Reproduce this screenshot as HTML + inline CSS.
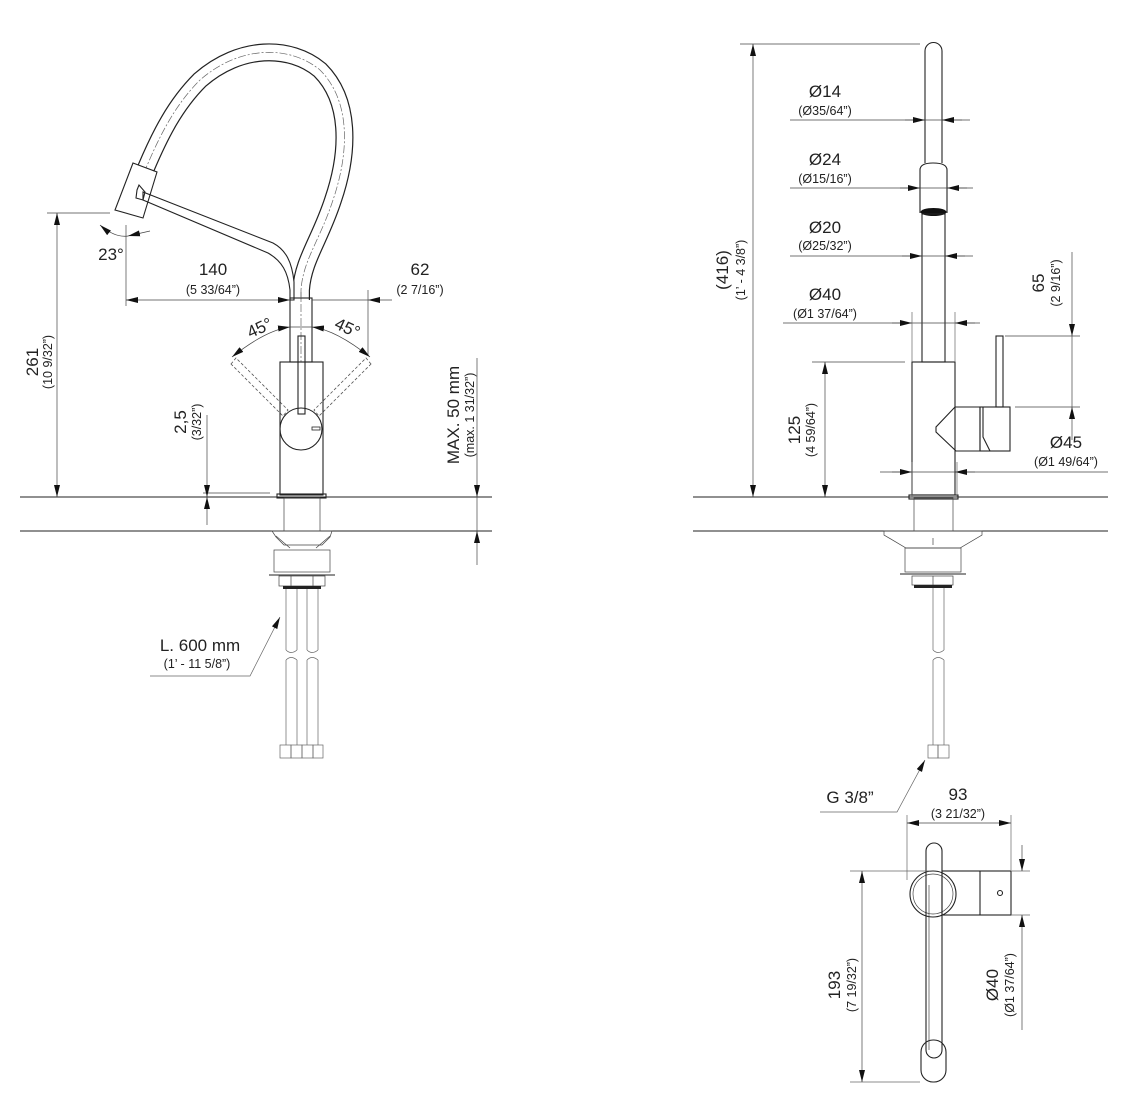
<!DOCTYPE html>
<html><head><meta charset="utf-8"><style>
html,body{margin:0;padding:0;background:#fff;}
svg{display:block;}
text{font-family:"Liberation Sans",sans-serif;fill:#222;}
.m{font-size:17px;}
.s{font-size:12.5px;}
.k{stroke:#222;stroke-width:1.1;fill:none;}
.t{stroke:#444;stroke-width:0.7;fill:none;}
.g{stroke:#666;stroke-width:0.7;fill:none;}
.d{stroke:#555;stroke-width:0.8;fill:none;stroke-dasharray:3 2;}
</style></head><body>
<svg width="1139" height="1116" viewBox="0 0 1139 1116" xmlns="http://www.w3.org/2000/svg">
<defs>
<marker id="a" viewBox="0 0 12 6" refX="12" refY="3" markerWidth="12" markerHeight="6" markerUnits="userSpaceOnUse" orient="auto-start-reverse"><path d="M0,0 L12,3 L0,6z" fill="#111"/></marker>
</defs>

<!-- ===== LEFT VIEW ===== -->
<line x1="20" y1="497" x2="492" y2="497" class="k"/>
<line x1="20" y1="531" x2="492" y2="531" class="k"/>
<!-- hose loop -->
<path d="M301,300 L301,290 C303,260 320,240 333,200 C350,150 350,100 320,70 C290,45 240,45 200,80 C175,105 160,135 146,168" stroke="#222" stroke-width="18" fill="none"/>
<path d="M301,302 L301,290 C303,260 320,240 333,200 C350,150 350,100 320,70 C290,45 240,45 200,80 C175,105 160,135 146,168" stroke="#fff" stroke-width="15.6" fill="none"/>
<path d="M301,300 L301,290 C303,260 320,240 333,200 C350,150 350,100 320,70 C290,45 240,45 200,80 C175,105 160,135 146,168" stroke="#666" stroke-width="0.7" stroke-dasharray="8 2 2 2" fill="none"/>
<!-- arm -->
<path d="M143,192 L273,243 C286,250 292,262 294,282 L294,300 L290,300 L290,290 C288,272 282,261 268,253 L143,200 Z" fill="#fff" stroke="#222" stroke-width="1.1"/>
<!-- pipe -->
<rect x="290" y="298" width="22" height="64" fill="#fff" class="k"/>
<line x1="301" y1="290" x2="301" y2="362" class="g" stroke-dasharray="8 2 2 2"/>
<!-- head -->
<polygon points="133,163 157,172 143,218 115,210" fill="#fff" class="k"/>
<path d="M137,190 L139,185 L145,192 L143,200 L136,198z" class="k" fill="#fff"/>
<!-- dashed levers -->
<polygon points="231,364 236,358 288,410 283,416" class="d"/>
<polygon points="371,364 366,358 314,410 319,416" class="d"/>
<!-- body -->
<rect x="280" y="362" width="43" height="133" fill="#fff" class="k"/>
<rect x="277" y="494" width="49" height="4" fill="#fff" class="k"/>
<rect x="298" y="336" width="7" height="78" fill="#fff" class="k"/>
<circle cx="301" cy="429" r="21" fill="#fff" class="k"/>
<rect x="312" y="427" width="8" height="3" fill="#fff" stroke="#222" stroke-width="0.8"/>
<!-- below counter -->
<rect x="284" y="498" width="36" height="33" fill="none" class="t"/>
<path d="M272,531 L332,531 L330,537 L322,545 L284,545 L276,537z" class="t"/>
<line x1="276" y1="536" x2="290" y2="548" class="t"/><line x1="330" y1="536" x2="316" y2="548" class="t"/>
<rect x="274" y="550" width="56" height="22" class="t"/>
<line x1="269" y1="575" x2="335" y2="575" class="k"/>
<rect x="279" y="576" width="46" height="10" class="t"/>
<line x1="291" y1="576" x2="291" y2="586" class="t"/><line x1="313" y1="576" x2="313" y2="586" class="t"/>
<rect x="283" y="586" width="38" height="3" fill="#222"/>
<g class="g">
<path d="M286,589 V650 M297,589 V650 M307,589 V650 M318,589 V650"/>
<path d="M286,660 V725 M297,660 V725 M307,660 V725 M318,660 V725"/>
<path d="M286,650 Q291,655 297,650 M307,650 Q312,655 318,650 M286,660 Q291,655 297,660 M307,660 Q312,655 318,660"/>
<rect x="280" y="745" width="11" height="13"/><rect x="291" y="745" width="11" height="13"/>
<rect x="302" y="745" width="11" height="13"/><rect x="313" y="745" width="10" height="13"/>
<path d="M286,725 V745 M297,725 V745 M307,725 V745 M318,725 V745"/>
</g>
<!-- dims left -->
<line x1="47" y1="213" x2="110" y2="213" class="t"/>
<line x1="57" y1="213" x2="57" y2="497" class="t" marker-start="url(#a)" marker-end="url(#a)"/>
<text class="m" transform="translate(38,362) rotate(-90)" text-anchor="middle">261</text>
<text class="s" transform="translate(52,362) rotate(-90)" text-anchor="middle">(10 9/32”)</text>
<line x1="126" y1="225" x2="126" y2="306" class="t"/>
<path d="M100,225 Q115,238 128,236" class="t" marker-start="url(#a)"/>
<line x1="128" y1="236" x2="150" y2="231" class="t" marker-start="url(#a)"/>
<text class="m" x="111" y="260" text-anchor="middle">23°</text>
<line x1="126" y1="300" x2="290" y2="300" class="t" marker-start="url(#a)" marker-end="url(#a)"/>
<line x1="312" y1="300" x2="368" y2="300" class="t"/>
<line x1="368" y1="300" x2="392" y2="300" class="t" marker-start="url(#a)"/>
<line x1="368" y1="290" x2="368" y2="356" class="t"/>
<text class="m" x="213" y="275" text-anchor="middle">140</text>
<text class="s" x="213" y="294" text-anchor="middle">(5 33/64”)</text>
<text class="m" x="420" y="275" text-anchor="middle">62</text>
<text class="s" x="420" y="294" text-anchor="middle">(2 7/16”)</text>
<path d="M232,357 Q266,330 290,327" class="t" marker-start="url(#a)" marker-end="url(#a)"/>
<path d="M370,357 Q336,330 312,327" class="t" marker-start="url(#a)" marker-end="url(#a)"/>
<line x1="290" y1="327" x2="312" y2="327" class="t"/>
<text class="m" transform="translate(262,333) rotate(-25)" text-anchor="middle">45°</text>
<text class="m" transform="translate(345,333) rotate(25)" text-anchor="middle">45°</text>
<line x1="203" y1="493" x2="270" y2="493" class="t"/>
<line x1="207" y1="415" x2="207" y2="497" class="t" marker-end="url(#a)"/>
<line x1="207" y1="525" x2="207" y2="497" class="t" marker-end="url(#a)"/>
<text class="m" transform="translate(186,422) rotate(-90)" text-anchor="middle">2,5</text>
<text class="s" transform="translate(201,422) rotate(-90)" text-anchor="middle">(3/32”)</text>
<line x1="477" y1="358" x2="477" y2="497" class="t" marker-end="url(#a)"/>
<line x1="477" y1="565" x2="477" y2="531" class="t" marker-end="url(#a)"/>
<line x1="477" y1="497" x2="477" y2="531" class="t"/>
<text class="m" transform="translate(459,415) rotate(-90)" text-anchor="middle">MAX. 50 mm</text>
<text class="s" transform="translate(474,415) rotate(-90)" text-anchor="middle">(max. 1 31/32”)</text>
<text class="m" x="200" y="651" text-anchor="middle">L. 600 mm</text>
<text class="s" x="197" y="668" text-anchor="middle">(1’ - 11 5/8”)</text>
<path d="M150,676 L250,676 L280,617" class="g" marker-end="url(#a)"/>

<!-- ===== RIGHT VIEW ===== -->
<line x1="693" y1="497" x2="1108" y2="497" class="k"/>
<line x1="693" y1="531" x2="1108" y2="531" class="k"/>
<path d="M925,163 V51 A8.5,8.5 0 0 1 942,51 V163" fill="#fff" class="k"/>
<path d="M920,213 V170 Q920,163 933,163 Q947,163 947,170 V213" fill="#fff" class="k"/>
<ellipse cx="933.5" cy="212" rx="13" ry="4" fill="#111"/>
<rect x="922" y="214" width="23" height="148" fill="#fff" class="k"/>
<rect x="912" y="362" width="43" height="133" fill="#fff" class="k"/>
<rect x="909" y="495" width="49" height="4" fill="#fff" class="k"/>
<rect x="996" y="336" width="7" height="71" fill="#fff" class="k"/>
<polygon points="955,407 980,407 980,451 956,451 936,432 936,427" fill="#fff" class="k"/>
<rect x="980" y="407" width="30" height="44" fill="#fff" class="k"/>
<path d="M983,407 V437 L990,451" class="k"/>
<rect x="914" y="498" width="39" height="33" class="t"/>
<path d="M884,531 L982,531 L982,535 L960,548 L906,548 L884,535z" class="t"/>
<line x1="933" y1="538" x2="933" y2="545" class="t"/>
<rect x="905" y="548" width="56" height="24" class="t"/>
<line x1="900" y1="574" x2="966" y2="574" class="k"/>
<rect x="912" y="576" width="41" height="9" class="t"/>
<line x1="933" y1="576" x2="933" y2="585" class="t"/>
<rect x="914" y="585" width="38" height="3" fill="#222"/>
<g class="g">
<path d="M933,588 V650 M944,588 V650 M933,660 V745 M944,660 V745"/>
<path d="M933,650 Q938,655 944,650 M933,660 Q938,655 944,660"/>
<rect x="928" y="745" width="10" height="13"/><rect x="938" y="745" width="11" height="13"/>
</g>
<text class="m" x="850" y="803" text-anchor="middle">G 3/8”</text>
<path d="M820,812 L897,812 L925,760" class="g" marker-end="url(#a)"/>
<line x1="740" y1="44" x2="920" y2="44" class="t"/>
<line x1="753" y1="44" x2="753" y2="497" class="t" marker-start="url(#a)" marker-end="url(#a)"/>
<text class="m" transform="translate(728,270) rotate(-90)" text-anchor="middle">(416)</text>
<text class="s" transform="translate(745,270) rotate(-90)" text-anchor="middle">(1’ - 4 3/8”)</text>
<line x1="790" y1="120" x2="970" y2="120" class="t"/>
<line x1="905" y1="120" x2="925" y2="120" class="t" marker-end="url(#a)"/>
<line x1="962" y1="120" x2="942" y2="120" class="t" marker-end="url(#a)"/>
<text class="m" x="825" y="97" text-anchor="middle">Ø14</text>
<text class="s" x="825" y="115" text-anchor="middle">(Ø35/64”)</text>
<line x1="790" y1="188" x2="973" y2="188" class="t"/>
<line x1="900" y1="188" x2="920" y2="188" class="t" marker-end="url(#a)"/>
<line x1="967" y1="188" x2="947" y2="188" class="t" marker-end="url(#a)"/>
<text class="m" x="825" y="165" text-anchor="middle">Ø24</text>
<text class="s" x="825" y="183" text-anchor="middle">(Ø15/16”)</text>
<line x1="790" y1="256" x2="973" y2="256" class="t"/>
<line x1="902" y1="256" x2="922" y2="256" class="t" marker-end="url(#a)"/>
<line x1="965" y1="256" x2="945" y2="256" class="t" marker-end="url(#a)"/>
<text class="m" x="825" y="233" text-anchor="middle">Ø20</text>
<text class="s" x="825" y="250" text-anchor="middle">(Ø25/32”)</text>
<line x1="783" y1="323" x2="980" y2="323" class="t"/>
<line x1="892" y1="323" x2="912" y2="323" class="t" marker-end="url(#a)"/>
<line x1="975" y1="323" x2="955" y2="323" class="t" marker-end="url(#a)"/>
<line x1="912" y1="312" x2="912" y2="362" class="g"/><line x1="955" y1="312" x2="955" y2="362" class="g"/>
<text class="m" x="825" y="300" text-anchor="middle">Ø40</text>
<text class="s" x="825" y="318" text-anchor="middle">(Ø1 37/64”)</text>
<line x1="812" y1="362" x2="905" y2="362" class="t"/>
<line x1="825" y1="362" x2="825" y2="497" class="t" marker-start="url(#a)" marker-end="url(#a)"/>
<text class="m" transform="translate(800,430) rotate(-90)" text-anchor="middle">125</text>
<text class="s" transform="translate(815,430) rotate(-90)" text-anchor="middle">(4 59/64”)</text>
<line x1="1005" y1="336" x2="1080" y2="336" class="t"/>
<line x1="1015" y1="407" x2="1080" y2="407" class="t"/>
<line x1="1072" y1="252" x2="1072" y2="336" class="t" marker-end="url(#a)"/>
<line x1="1072" y1="336" x2="1072" y2="407" class="t"/>
<line x1="1072" y1="440" x2="1072" y2="407" class="t" marker-end="url(#a)"/>
<text class="m" transform="translate(1044,283) rotate(-90)" text-anchor="middle">65</text>
<text class="s" transform="translate(1060,283) rotate(-90)" text-anchor="middle">(2 9/16”)</text>
<line x1="880" y1="472" x2="1108" y2="472" class="t"/>
<line x1="892" y1="472" x2="912" y2="472" class="t" marker-end="url(#a)"/>
<line x1="975" y1="472" x2="955" y2="472" class="t" marker-end="url(#a)"/>
<line x1="912" y1="462" x2="912" y2="497" class="g"/><line x1="957" y1="462" x2="957" y2="497" class="g"/>
<text class="m" x="1066" y="448" text-anchor="middle">Ø45</text>
<text class="s" x="1066" y="466" text-anchor="middle">(Ø1 49/64”)</text>

<!-- ===== TOP VIEW ===== -->
<line x1="907" y1="815" x2="907" y2="880" class="g"/>
<line x1="1011" y1="815" x2="1011" y2="870" class="g"/>
<line x1="907" y1="823" x2="1011" y2="823" class="t" marker-start="url(#a)" marker-end="url(#a)"/>
<text class="m" x="958" y="800" text-anchor="middle">93</text>
<text class="s" x="958" y="818" text-anchor="middle">(3 21/32”)</text>
<circle cx="933" cy="894" r="23" fill="#fff" class="k"/>
<circle cx="933" cy="894" r="20" fill="none" class="t"/>
<rect x="942" y="871" width="69" height="44" fill="#fff" class="k"/>
<line x1="980" y1="871" x2="980" y2="915" class="k"/>
<circle cx="1000" cy="893" r="2.5" class="k"/>
<rect x="921" y="1040" width="25" height="42" rx="12" fill="#fff" class="k"/>
<rect x="926" y="843" width="16" height="215" rx="8" fill="#fff" class="k"/>
<line x1="929" y1="885" x2="929" y2="1050" class="t"/>
<line x1="850" y1="871" x2="930" y2="871" class="g"/>
<line x1="850" y1="1082" x2="920" y2="1082" class="g"/>
<line x1="862" y1="871" x2="862" y2="1082" class="t" marker-start="url(#a)" marker-end="url(#a)"/>
<text class="m" transform="translate(840,985) rotate(-90)" text-anchor="middle">193</text>
<text class="s" transform="translate(856,985) rotate(-90)" text-anchor="middle">(7 19/32”)</text>
<line x1="1011" y1="871" x2="1030" y2="871" class="g"/>
<line x1="1011" y1="915" x2="1030" y2="915" class="g"/>
<line x1="1022" y1="845" x2="1022" y2="871" class="t" marker-end="url(#a)"/>
<line x1="1022" y1="1030" x2="1022" y2="915" class="t" marker-end="url(#a)"/>
<text class="m" transform="translate(998,985) rotate(-90)" text-anchor="middle">Ø40</text>
<text class="s" transform="translate(1014,985) rotate(-90)" text-anchor="middle">(Ø1 37/64”)</text>
</svg>
</body></html>
